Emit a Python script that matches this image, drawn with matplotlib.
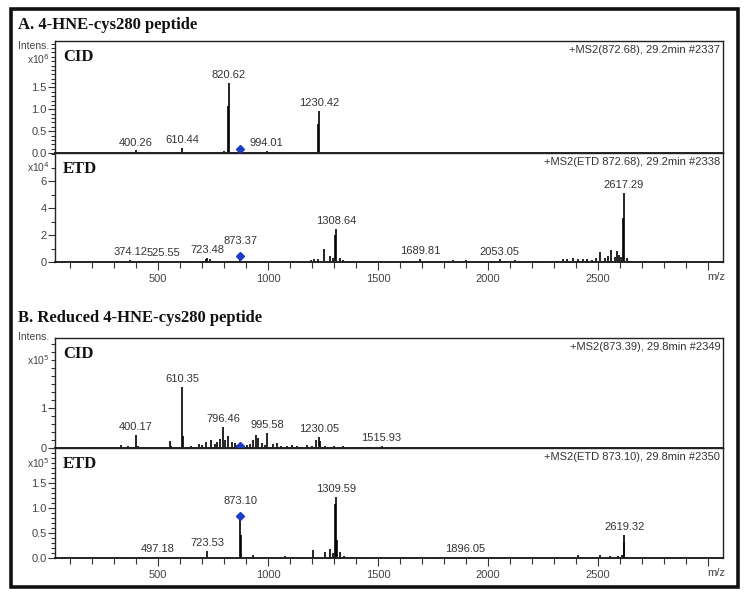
import matplotlib
matplotlib.use('Agg')
import matplotlib.pyplot as plt
from matplotlib.patches import Rectangle
from matplotlib.ticker import MultipleLocator, FixedLocator, FixedFormatter

plt.rcParams['font.family'] = ['Liberation Sans', 'DejaVu Sans']

W, H = 750, 600

# ----- A. CID (x10^6) -----
cidA_mz = [400.26, 610.44, 735, 785, 798, 816.5, 820.62, 866, 920, 944, 994.01, 1020, 1097, 1226.5, 1230.42]
cidA_int = [0.06, 0.12, 0.02, 0.03, 0.04, 1.08, 1.60, 0.03, 0.02, 0.02, 0.04, 0.02, 0.02, 0.66, 0.97]
cidA_labels = [400.26, 610.44, 820.62, 994.01, 1230.42]
cidA_prec = (872.68, 0.09)
cidA_info = '+MS2(872.68), 29.2min #2337'

# ----- A. ETD (x10^4) -----
etdA_mz = [330, 374.12, 420, 460, 525.55, 600, 650, 700, 718, 723.48, 735, 800, 873.37, 930, 985,
           1050, 1150, 1193, 1209, 1227, 1254, 1281, 1295, 1304, 1308.64, 1327, 1340, 1360, 1420,
           1480, 1560, 1610, 1650, 1689.81, 1720, 1780, 1840, 1900, 1960, 1990, 2010, 2053.05, 2080,
           2120, 2180, 2250, 2300, 2340, 2360, 2385, 2410, 2430, 2450, 2470, 2490, 2510, 2530, 2545,
           2560, 2575, 2585, 2595, 2605, 2613, 2617.29, 2630, 2650, 2700, 2800, 2900]
etdA_int = [0.05, 0.15, 0.05, 0.05, 0.06, 0.05, 0.05, 0.1, 0.25, 0.3, 0.2, 0.08, 0.45, 0.1, 0.08,
            0.05, 0.05, 0.15, 0.2, 0.25, 0.97, 0.45, 0.3, 2.0, 2.46, 0.3, 0.15, 0.08, 0.05,
            0.05, 0.08, 0.1, 0.08, 0.25, 0.08, 0.1, 0.12, 0.15, 0.08, 0.1, 0.1, 0.2, 0.1,
            0.12, 0.05, 0.08, 0.1, 0.2, 0.25, 0.3, 0.2, 0.25, 0.2, 0.15, 0.3, 0.75, 0.3, 0.45,
            0.9, 0.35, 0.8, 0.55, 0.4, 3.3, 5.15, 0.3, 0.1, 0.05, 0.05, 0.05]
etdA_labels = [374.12, 525.55, 723.48, 873.37, 1308.64, 1689.81, 2053.05, 2617.29]
etdA_prec = (873.37, 0.45)
etdA_info = '+MS2(ETD 872.68), 29.2min #2338'

# ----- B. CID (x10^5) -----
cidB_mz = [187, 332, 363, 400.17, 410, 470, 554, 560, 610.35, 614, 650, 687, 700, 720, 743, 760,
           766, 781, 796.46, 805, 818, 834, 850, 860, 873.39, 903, 920, 933, 945, 956, 971, 985,
           995.58, 1023, 1039, 1060, 1085, 1107, 1130, 1175, 1198, 1220, 1230.05, 1236, 1258,
           1300, 1340, 1400, 1454, 1515.93, 1600]
cidB_int = [0.02, 0.08, 0.05, 0.33, 0.05, 0.03, 0.18, 0.06, 1.53, 0.3, 0.04, 0.1, 0.08, 0.15, 0.2, 0.1,
            0.15, 0.22, 0.53, 0.2, 0.3, 0.15, 0.12, 0.08, 0.03, 0.08, 0.1, 0.2, 0.33, 0.25, 0.12, 0.08,
            0.37, 0.1, 0.12, 0.05, 0.06, 0.08, 0.04, 0.08, 0.05, 0.2, 0.28, 0.18, 0.05,
            0.04, 0.04, 0.02, 0.02, 0.05, 0.02]
cidB_labels = [400.17, 610.35, 796.46, 995.58, 1230.05, 1515.93]
cidB_prec = (873.39, 0.04)
cidB_info = '+MS2(873.39), 29.8min #2349'

# ----- B. ETD (x10^5) -----
etdB_mz = [350, 420, 497.18, 560, 650, 700, 723.53, 873.10, 877, 932, 1000, 1077, 1150, 1205, 1258,
           1281, 1296, 1305, 1309.59, 1313, 1327, 1345, 1400, 1450, 1550, 1650, 1750, 1896.05, 1993,
           2050, 2408, 2508, 2553, 2590, 2606, 2615, 2619.32, 2640]
etdB_int = [0.02, 0.02, 0.02, 0.02, 0.02, 0.03, 0.14, 0.76, 0.46, 0.06, 0.02, 0.04, 0.02, 0.16, 0.12,
            0.18, 0.1, 1.08, 1.23, 0.36, 0.12, 0.05, 0.03, 0.02, 0.02, 0.02, 0.02, 0.03, 0.02,
            0.02, 0.06, 0.07, 0.05, 0.04, 0.07, 0.3, 0.46, 0.02]
etdB_labels = [497.18, 723.53, 873.10, 1309.59, 1896.05, 2619.32]
etdB_prec = (873.10, 0.84)
etdB_info = '+MS2(ETD 873.10), 29.8min #2350'

x_major = [500, 1000, 1500, 2000, 2500, 3000]
x_major_labels = ['500', '1000', '1500', '2000', '2500', '']


fig = plt.figure(figsize=(W / 100, H / 100), dpi=100)


def px_axes(left, top, right, bottom):
    return fig.add_axes([left / W, 1 - bottom / H, (right - left) / W, (bottom - top) / H])


def ftext(x, y, s, **kw):
    fig.text(x / W, 1 - y / H, s, **kw)


def draw(ax, mz, inten, labels, prec, info, name, ymax, yticks, ylabels, yminor, xaxis):
    ax.vlines(mz, 0, inten, color='black', lw=1.2)
    ax.plot([prec[0]], [prec[1]], marker='D', ms=4.5, color='#1d3cc4', ls='none', zorder=5)
    for m in labels:
        h = inten[mz.index(m)]
        off = 2
        if abs(m - prec[0]) < 0.5:
            h = max(h, prec[1])
            off = 7
        ax.annotate('%.2f' % m, (m, h), xytext=(0, off), textcoords='offset points',
                    ha='center', va='bottom', fontsize=8, color='#333333')
    ax.set_xlim(32, 3067)
    ax.set_ylim(0, ymax)
    for sp in ax.spines.values():
        sp.set_color('#222222')
        sp.set_linewidth(1.0)
    ax.spines['bottom'].set_linewidth(1.4)
    ax.yaxis.set_major_locator(FixedLocator(yticks))
    ax.yaxis.set_major_formatter(FixedFormatter(ylabels))
    ax.yaxis.set_minor_locator(MultipleLocator(yminor))
    ax.tick_params(axis='y', which='major', direction='out', length=5, width=0.8,
                   labelsize=8, labelcolor='#444444', color='#333333', pad=1)
    ax.tick_params(axis='y', which='minor', direction='out', length=3, width=0.8, color='#333333')
    if xaxis:
        ax.xaxis.set_major_locator(FixedLocator(x_major))
        ax.xaxis.set_major_formatter(FixedFormatter(x_major_labels))
        ax.xaxis.set_minor_locator(MultipleLocator(100))
        ax.tick_params(axis='x', which='major', direction='out', length=6, width=0.8,
                       labelsize=8, labelcolor='#444444', color='#333333', pad=3)
        ax.tick_params(axis='x', which='minor', direction='out', length=4, width=0.8, color='#333333')
    else:
        ax.set_xticks([])
    ax.annotate(info, (1, 1), xycoords='axes fraction', xytext=(-2, -3), textcoords='offset points',
                ha='right', va='top', fontsize=8, color='#333333')
    ax.text(0.012, 0.93, name, transform=ax.transAxes, ha='left', va='top',
            fontsize=12, fontweight='bold', family='Liberation Serif', color='#111111')


axA1 = px_axes(55, 41, 723, 153)
axA2 = px_axes(55, 153, 723, 262)
axB1 = px_axes(55, 338, 723, 448)
axB2 = px_axes(55, 448, 723, 558)

draw(axA1, cidA_mz, cidA_int, cidA_labels, cidA_prec, cidA_info, 'CID',
     2.56, [0, 0.5, 1.0, 1.5], ['0.0', '0.5', '1.0', '1.5'], 0.1, False)
draw(axA2, etdA_mz, etdA_int, etdA_labels, etdA_prec, etdA_info, 'ETD',
     8.1, [0, 2, 4, 6], ['0', '2', '4', '6'], 1, True)
draw(axB1, cidB_mz, cidB_int, cidB_labels, cidB_prec, cidB_info, 'CID',
     2.75, [0, 1], ['0', '1'], 0.2, False)
draw(axB2, etdB_mz, etdB_int, etdB_labels, etdB_prec, etdB_info, 'ETD',
     2.2, [0, 0.5, 1.0, 1.5], ['0.0', '0.5', '1.0', '1.5'], 0.1, True)

# titles
ftext(18, 25, 'A. 4-HNE-cys280 peptide', fontsize=12, fontweight='bold',
      family='Liberation Serif', va='center', ha='left', color='#111111')
ftext(18, 318, 'B. Reduced 4-HNE-cys280 peptide', fontsize=12, fontweight='bold',
      family='Liberation Serif', va='center', ha='left', color='#111111')

# intensity labels
ylab = dict(fontsize=7.5, color='#444444', ha='right', va='center')
ftext(49, 46, 'Intens.', **ylab)
ftext(50, 59, r'x10$^{6}$', **ylab)
ftext(50, 167, r'x10$^{4}$', **ylab)
ftext(49, 337, 'Intens.', **ylab)
ftext(50, 360, r'x10$^{5}$', **ylab)
ftext(50, 463, r'x10$^{5}$', **ylab)

# m/z labels
ftext(716, 277, 'm/z', fontsize=8, color='#444444', ha='center', va='center')
ftext(716, 573, 'm/z', fontsize=8, color='#444444', ha='center', va='center')

# outer frame
fig.patches.append(Rectangle((11 / W, 1 - 587 / H), (738 - 11) / W, (587 - 9) / H,
                             transform=fig.transFigure, fill=False, lw=2.6, edgecolor='#111111'))

fig.savefig('out.png', dpi=100)
